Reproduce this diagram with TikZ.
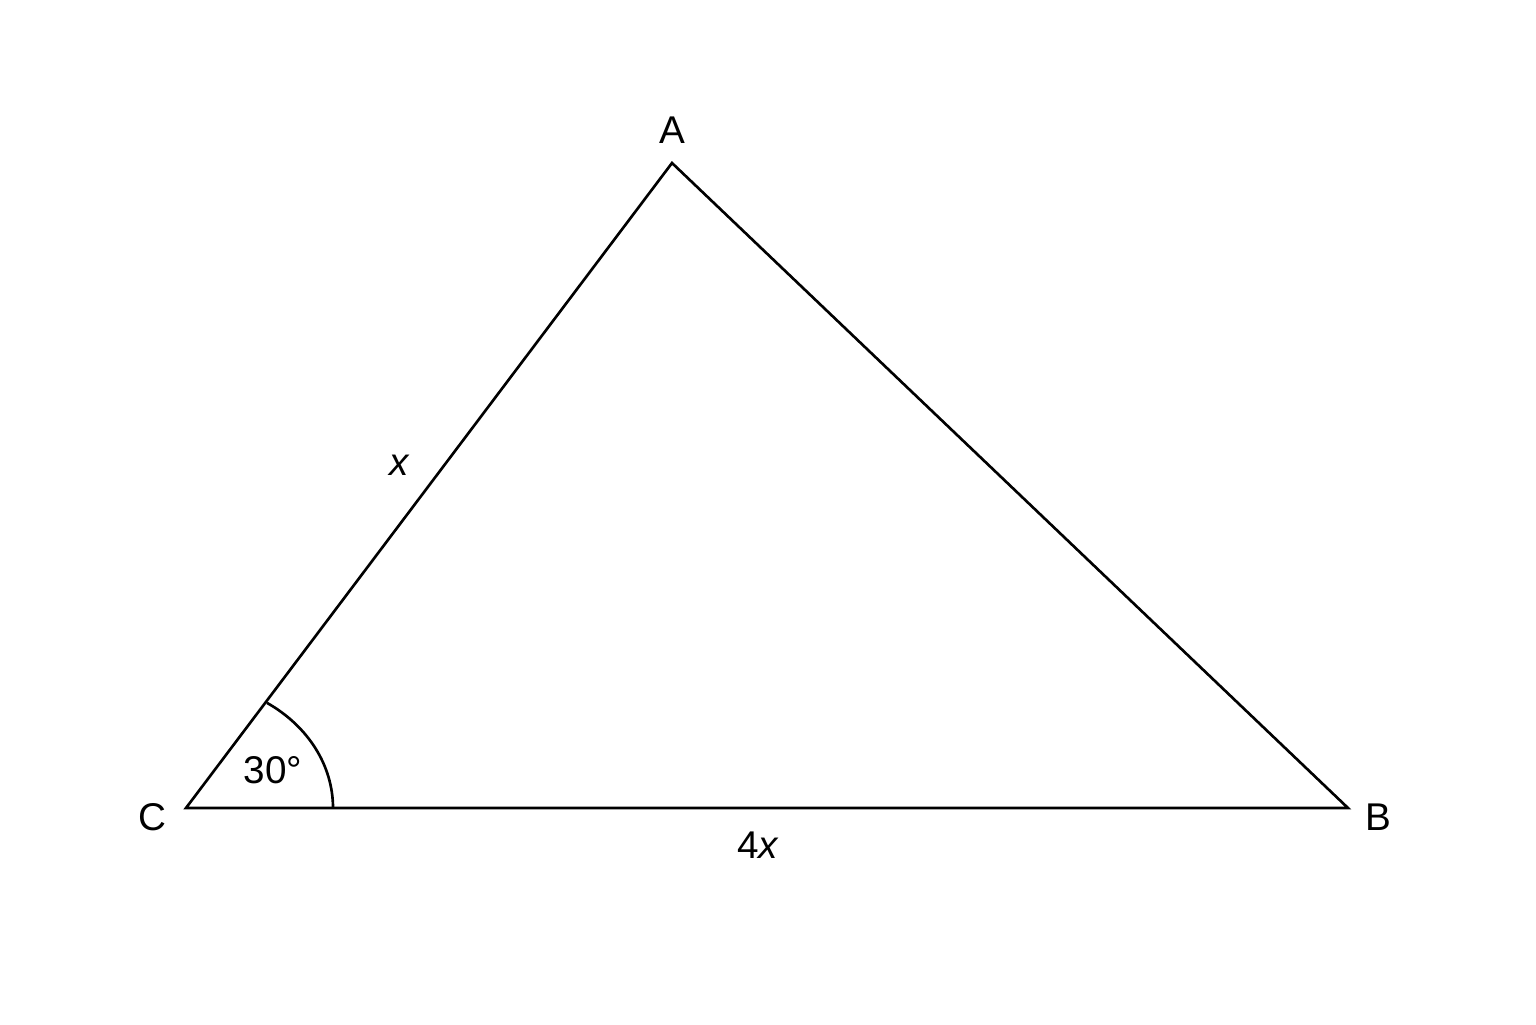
\documentclass[tikz,border=0pt]{standalone}
\usepackage{fontspec}
\setmainfont{Liberation Sans}
\begin{document}
\begin{tikzpicture}[
  edge/.style={line width=0.75pt, line join=miter},
  lbl/.style={font=\fontsize{11}{13}\selectfont, inner sep=0pt}
]
\useasboundingbox (0,0) rectangle (15.36,10.24);
\coordinate (C) at (1.86,2.16);
\coordinate (A) at (6.72,8.61);
\coordinate (B) at (13.48,2.16);
\draw[edge] (C) -- (A) -- (B) -- cycle;
\coordinate (arcstart) at (3.33,2.16);
\draw[edge] (arcstart) arc[start angle=0, end angle=56.6, x radius=1.47, y radius=1.26];
\node[lbl] (lA) at (6.72,8.94) {A};
\node[lbl] (lB) at (13.78,2.07) {B};
\node[lbl] (lC) at (1.52,2.07) {C};
\node[lbl] (lx) at (4.00,5.59) {\textit{x}};
\node[lbl] (l4x) at (7.58,1.79) {4\textit{x}};
\node[lbl] (lang) at (2.73,2.54) {30°};
\end{tikzpicture}
\end{document}
